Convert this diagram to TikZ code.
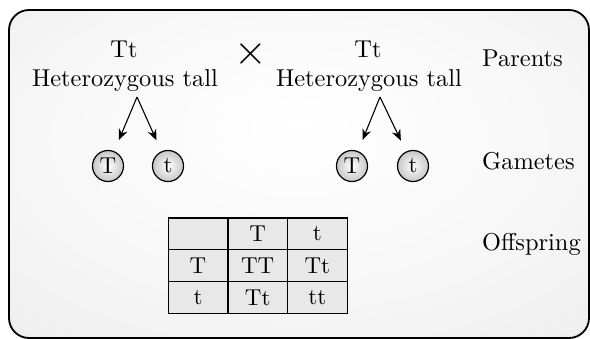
\documentclass[tikz,border=0pt]{standalone}
\usepackage{fontspec}
\setmainfont{lmroman10-regular.otf}
\usetikzlibrary{arrows.meta}
\pgfdeclareradialshading{bgshade}{\pgfpoint{0bp}{8bp}}{color(0bp)=(white); color(22bp)=(white!97!black); color(40bp)=(white!93!black); color(62bp)=(white!88!black)}
\tikzset{
  lbl/.style={font=\fontsize{24.4}{29}\selectfont, inner sep=0pt},
  gam/.style={circle, draw, line width=1.2pt, minimum size=31pt, inner sep=0pt,
    inner color=white, outer color=black!22, font=\fontsize{23}{23}\selectfont},
  arr/.style={-{Stealth[length=11pt,width=9pt]}, line width=1.1pt, shorten >=12pt},
  cell/.style={draw, line width=1.3pt, fill=black!9, minimum width=59.7pt,
    minimum height=31.7pt, inner sep=0pt, font=\fontsize{23}{23}\selectfont},
}
\begin{document}
\begin{tikzpicture}[x=1pt,y=-1pt]
\useasboundingbox (0,0) rectangle (590,339);
\path[shade, shading=bgshade, draw=black, line width=1.8pt, rounded corners=20pt] (9,10) rectangle (589,338);
% parents
\node[lbl, anchor=base] (tt1) at (124,58) {Tt};
\node[lbl, anchor=base] (het1) at (125,87) {Heterozygous tall};
\node[lbl, anchor=base] (tt2) at (368,58) {Tt};
\node[lbl, anchor=base] (het2) at (369,87) {Heterozygous tall};
\node[font=\fontsize{42}{42}\selectfont, inner sep=0pt] (cross) at (251,54) {×};
% row labels
\node[lbl, anchor=base west] (par) at (482,67) {Parents};
\node[lbl, anchor=base west] (game) at (482,170) {Gametes};
\node[lbl, anchor=base west] (off) at (482,251) {Offspring};
% gametes
\coordinate (a1) at (137,97);
\coordinate (a2) at (380,97);
\node[gam] (g1) at (108,166) {T};
\node[gam] (g2) at (168,166) {t};
\node[gam] (g3) at (352,166) {T};
\node[gam] (g4) at (413,166) {t};
\draw[arr] (a1) -- (g1);
\draw[arr] (a1) -- (g2);
\draw[arr] (a2) -- (g3);
\draw[arr] (a2) -- (g4);
% punnett square
\node[cell] (c11) at (198,234) {};
\node[cell] (c12) at (257.7,234) {T};
\node[cell] (c13) at (317.4,234) {t};
\node[cell] (c21) at (198,265.7) {T};
\node[cell] (c22) at (257.7,265.7) {TT};
\node[cell] (c23) at (317.4,265.7) {Tt};
\node[cell] (c31) at (198,297.4) {t};
\node[cell] (c32) at (257.7,297.4) {Tt};
\node[cell] (c33) at (317.4,297.4) {tt};
\end{tikzpicture}
\end{document}
